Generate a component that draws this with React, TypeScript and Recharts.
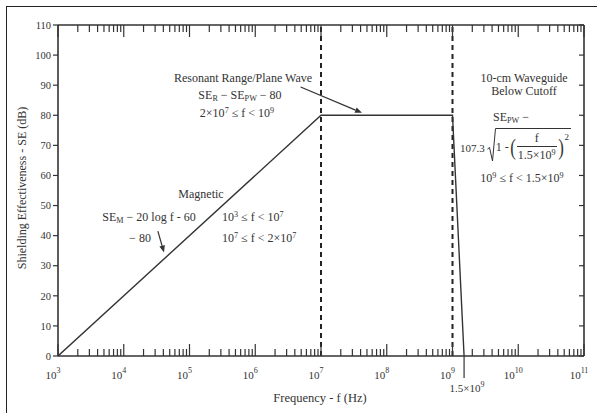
import React from "react";
import { LineChart, Line, XAxis, YAxis, ReferenceLine } from "recharts";

const FONT = "'Liberation Serif', 'Times New Roman', serif";
const INK = "#333";

// shielding curve
const FREQ = [1e3, 1e7, 1e9, 1.5e9];
const SE = [0, 80, 80, 0];

const DECADES = [1e3, 1e4, 1e5, 1e6, 1e7, 1e8, 1e9, 1e10, 1e11];
const MINOR_STEPS = [2, 3, 4, 5, 6, 7, 8, 9];
const SE_TICKS = [0, 10, 20, 30, 40, 50, 60, 70, 80, 90, 100, 110];
const CUTOFF = 1.5e9;
const BOUNDARIES = [1e7, 1e9];

// annotation arrows, from -> to, in data units
const RESONANT_ARROW = [
  { x: 4.9e6, y: 89.4 },
  { x: 4.2e7, y: 80.8 },
];
const MAGNETIC_ARROW = [
  { x: 3.3e4, y: 41.5 },
  { x: 4.1e4, y: 34.4 },
];

const data = FREQ.map((f, i) => ({ f, se: SE[i] }));
const minors = DECADES.slice(0, -1).flatMap((d) => MINOR_STEPS.map((m) => m * d));
const xTicks = [...DECADES, ...minors, CUTOFF].sort((a, b) => a - b);

function isDecade(v: number) {
  const l = Math.log10(v);
  return Math.abs(l - Math.round(l)) < 1e-6;
}

function BottomTick({ x, y, payload }: any) {
  const v = payload.value;
  if (v === CUTOFF) {
    return (
      <g>
        <line x1={x} y1={y} x2={x} y2={y + 22} stroke={INK} strokeWidth={1.2} />
        <text x={x + 3} y={y + 36} textAnchor="middle" fontFamily={FONT} fontSize={11} fill={INK}>
          1.5×10<tspan dy={-5} fontSize={8}>9</tspan>
        </text>
      </g>
    );
  }
  const major = isDecade(v);
  const exp = Math.round(Math.log10(v));
  return (
    <g>
      <line x1={x} y1={y} x2={x} y2={y - (major ? 12 : 7)} stroke={INK} strokeWidth={1.2} />
      {major && (
        <text x={x - 5} y={y + 23} textAnchor="middle" fontFamily={FONT} fontSize={11} fill={INK}>
          10<tspan dy={-6} fontSize={8}>{exp}</tspan>
        </text>
      )}
    </g>
  );
}

function TopTick({ x, y, payload }: any) {
  const v = payload.value;
  if (v === CUTOFF) return <g />;
  const major = isDecade(v);
  return <line x1={x} y1={y} x2={x} y2={y + (major ? 12 : 7)} stroke={INK} strokeWidth={1.2} />;
}

function RightTick({ x, y }: any) {
  return <line x1={x} y1={y} x2={x - 5} y2={y} stroke={INK} strokeWidth={1.2} />;
}

function Arrow(p: any) {
  const { x1, y1, x2, y2 } = p;
  const a = Math.atan2(y2 - y1, x2 - x1);
  const L = 7;
  const W = 2.8;
  const bx = x2 - L * Math.cos(a);
  const by = y2 - L * Math.sin(a);
  const pts = `${x2},${y2} ${bx + W * Math.sin(a)},${by - W * Math.cos(a)} ${bx - W * Math.sin(a)},${by + W * Math.cos(a)}`;
  return (
    <g>
      <line x1={x1} y1={y1} x2={bx} y2={by} stroke={INK} strokeWidth={1.2} />
      <polygon points={pts} fill={INK} />
    </g>
  );
}

const Sub = ({ children }: any) => (
  <span style={{ fontSize: "0.68em", verticalAlign: "-0.25em", lineHeight: 0 }}>{children}</span>
);
const Sup = ({ children }: any) => (
  <span style={{ fontSize: "0.68em", verticalAlign: "0.5em", lineHeight: 0 }}>{children}</span>
);

function Note({ x, y, children, left = false, size = 12 }: any) {
  return (
    <div
      style={{
        position: "absolute",
        left: x,
        top: y,
        transform: `translate(${left ? "0" : "-50%"}, -50%)`,
        whiteSpace: "nowrap",
        fontSize: size,
        lineHeight: 1,
        color: INK,
        fontFamily: FONT,
      }}
    >
      {children}
    </div>
  );
}

const paren = { fontSize: 24, lineHeight: 1, transform: "scaleX(0.7)", display: "inline-block" };

export default function App() {
  return (
    <div
      style={{
        position: "fixed",
        left: 0,
        top: 0,
        width: 597,
        height: 413,
        background: "#fff",
        fontFamily: FONT,
        overflow: "hidden",
      }}
    >
      <div
        style={{
          position: "absolute",
          left: 6,
          top: 6,
          width: 700,
          height: 500,
          borderLeft: "1.5px solid #222",
          borderTop: "1.5px solid #222",
        }}
      />
      <div style={{ position: "absolute", left: 0, top: 0 }}>
        <LineChart width={597} height={413} data={data} margin={{ top: 24, right: 0, bottom: 0, left: 0 }}>
          <XAxis
            dataKey="f"
            type="number"
            scale="log"
            domain={[1e3, 1e11]}
            ticks={xTicks}
            interval={0}
            height={57}
            tickSize={0}
            tickMargin={0}
            tick={<BottomTick />}
            axisLine={{ stroke: INK, strokeWidth: 1.6 }}
            allowDataOverflow
          />
          <XAxis
            xAxisId="top"
            orientation="top"
            dataKey="f"
            type="number"
            scale="log"
            domain={[1e3, 1e11]}
            ticks={xTicks}
            interval={0}
            height={1}
            tickSize={0}
            tickMargin={0}
            tick={<TopTick />}
            axisLine={{ stroke: INK, strokeWidth: 1.6 }}
            allowDataOverflow
          />
          <YAxis
            type="number"
            domain={[0, 110]}
            ticks={SE_TICKS}
            interval={0}
            width={58}
            tickSize={5}
            tickMargin={2}
            tick={{ fontFamily: FONT, fontSize: 10.5, fill: INK }}
            tickLine={{ stroke: INK, strokeWidth: 1.2 }}
            axisLine={{ stroke: INK, strokeWidth: 1.6 }}
            allowDataOverflow
          />
          <YAxis
            yAxisId="right"
            orientation="right"
            type="number"
            domain={[0, 110]}
            ticks={SE_TICKS}
            interval={0}
            width={13}
            tickSize={0}
            tickMargin={0}
            tick={<RightTick />}
            axisLine={{ stroke: INK, strokeWidth: 1.6 }}
            allowDataOverflow
          />
          {BOUNDARIES.map((b) => (
            <ReferenceLine key={b} x={b} stroke="#222" strokeWidth={2} strokeDasharray="5 4" />
          ))}
          <ReferenceLine segment={RESONANT_ARROW} shape={<Arrow />} ifOverflow="visible" />
          <ReferenceLine segment={MAGNETIC_ARROW} shape={<Arrow />} ifOverflow="visible" />
          <Line
            type="linear"
            dataKey="se"
            stroke={INK}
            strokeWidth={1.4}
            dot={false}
            isAnimationActive={false}
          />
        </LineChart>
      </div>

      <Note x={320} y={398} size={12.5}>Frequency - f (Hz)</Note>
      <div
        style={{
          position: "absolute",
          left: 22,
          top: 188,
          transform: "translate(-50%, -50%) rotate(-90deg)",
          whiteSpace: "nowrap",
          fontSize: 12,
          lineHeight: 1,
          color: INK,
        }}
      >
        Shielding Effectiveness - SE (dB)
      </div>

      <Note x={243} y={78}>Resonant Range/Plane Wave</Note>
      <Note x={240} y={95}>
        SE<Sub>R</Sub> − SE<Sub>PW</Sub> − 80
      </Note>
      <Note x={237} y={113}>
        2×10<Sup>7</Sup> ≤ f &lt; 10<Sup>9</Sup>
      </Note>

      <Note x={524} y={78}>10-cm Waveguide</Note>
      <Note x={524} y={91}>Below Cutoff</Note>
      <Note x={511} y={117}>
        SE<Sub>PW</Sub> −
      </Note>
      <div
        style={{
          position: "absolute",
          left: 460,
          top: 128,
          display: "flex",
          alignItems: "center",
          fontSize: 12,
          lineHeight: 1,
          color: INK,
          whiteSpace: "nowrap",
        }}
      >
        <span style={{ fontSize: 11, marginRight: 2, marginTop: 6 }}>107.3</span>
        <span style={{ display: "inline-flex", alignItems: "stretch" }}>
          <svg width={9} height={34} style={{ display: "block" }}>
            <path d="M0.5,21 L2.5,19.5 L5.5,33 L8.5,0.5 L9,0.5" stroke={INK} fill="none" strokeWidth={1} />
          </svg>
          <span
            style={{
              borderTop: `1px solid ${INK}`,
              display: "inline-flex",
              alignItems: "center",
              paddingTop: 2,
              paddingRight: 2,
            }}
          >
            <span>1 -</span>
            <span style={paren}>(</span>
            <span style={{ display: "inline-flex", flexDirection: "column", alignItems: "center" }}>
              <span style={{ paddingBottom: 2 }}>f</span>
              <span style={{ borderTop: `1px solid ${INK}`, paddingTop: 2, paddingLeft: 1, paddingRight: 1 }}>
                1.5×10<Sup>9</Sup>
              </span>
            </span>
            <span style={paren}>)</span>
            <span style={{ alignSelf: "flex-start", fontSize: 9, marginTop: 2 }}>2</span>
          </span>
        </span>
      </div>
      <Note x={522} y={178}>
        10<Sup>9</Sup> ≤ f &lt; 1.5×10<Sup>9</Sup>
      </Note>

      <Note x={201} y={194}>Magnetic</Note>
      <Note x={149} y={217}>
        SE<Sub>M</Sub> − 20 log f - 60
      </Note>
      <Note x={140} y={238}>− 80</Note>
      <Note x={222} y={217} left>
        10<Sup>3</Sup> ≤ f &lt; 10<Sup>7</Sup>
      </Note>
      <Note x={222} y={238} left>
        10<Sup>7</Sup> ≤ f &lt; 2×10<Sup>7</Sup>
      </Note>
    </div>
  );
}
